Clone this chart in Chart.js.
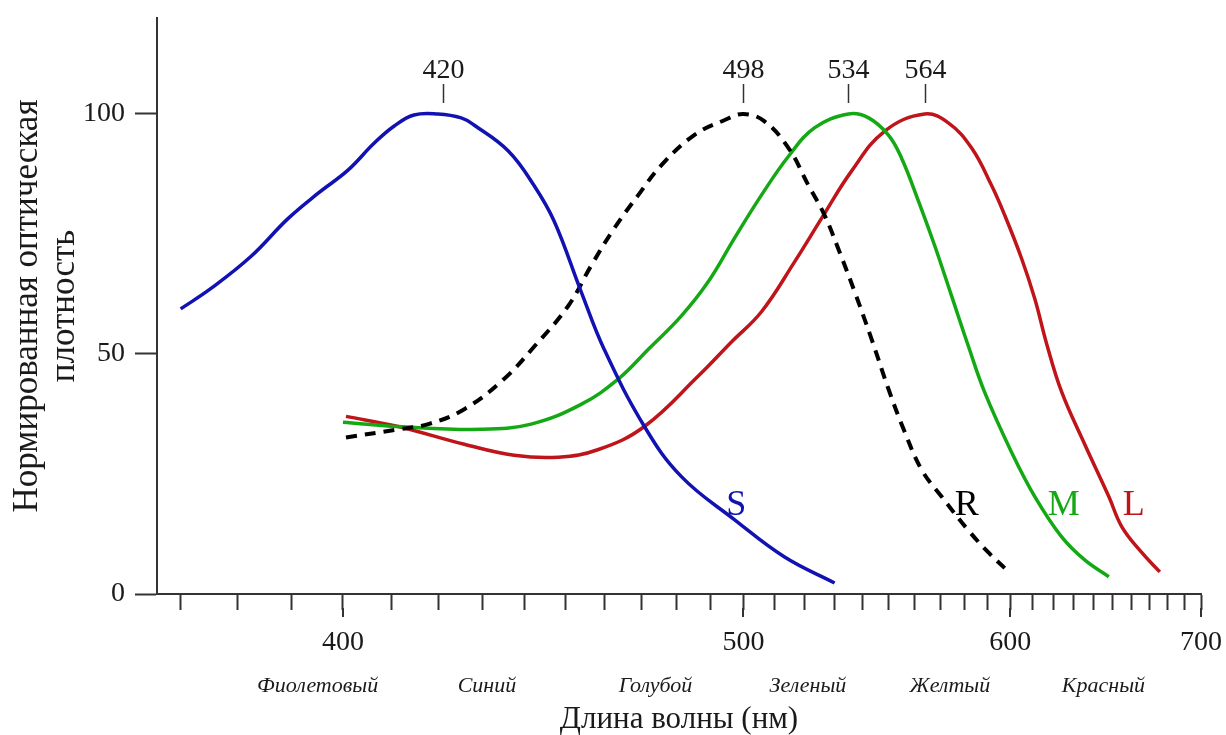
<!DOCTYPE html>
<html>
<head>
<meta charset="utf-8">
<script src="https://cdn.jsdelivr.net/npm/chart.js@4"></script>
<style>
  html, body { margin: 0; padding: 0; background: #fff; }
  #wrap { width: 1226px; height: 735px; position: relative; }
</style>
</head>
<body>
<div id="wrap"><canvas id="chart"></canvas></div>
<script>
// длина волны (нм) и нормированная оптическая плотность
const sWl  = [370, 375.2, 382.4, 389.3, 395.1, 401, 406.3, 410.5, 414.7, 419.9, 425.1, 428, 436, 442.2, 447.2, 454, 460, 470.9, 481.3, 497.2, 513.2, 530.2];
const sVal = [59.4, 63.6, 70.3, 78.2, 83.5, 88.3, 93.9, 97.5, 99.8, 100, 99.2, 97.7, 92.3, 85.1, 77.6, 63.0, 51.0, 34.9, 24.5, 15.5, 7.7, 2.3];

const rWl  = [400.6, 411.3, 417.8, 425.8, 435, 442.2, 450.7, 456.6, 462.7, 469.2, 475.6, 485.1, 494.1, 500, 506.6, 514.5, 521.2, 526.7, 531.9, 537.3, 543.5, 549.8, 555.9, 562.6, 570.6, 581.8, 590.4, 597.5];
const rVal = [32.6, 34.3, 35.4, 38.5, 44.8, 51.5, 60.0, 68.4, 76.2, 83.1, 89.3, 95.6, 98.7, 100, 98.5, 92.9, 85.1, 78.9, 71.3, 63.0, 53.1, 42.7, 33.9, 25.9, 20.3, 13.2, 8.6, 5.4];

const mWl  = [400, 411.3, 429.6, 441.5, 454, 463.8, 472, 481.3, 489.3, 497.2, 505.7, 514.5, 523.2, 535.1, 542.4, 549.8, 554.8, 561.4, 567.8, 574.7, 581.8, 588.7, 600.6, 611.2, 624, 635.4, 647.8];
const mVal = [35.8, 34.9, 34.3, 35.4, 39.5, 44.8, 51.0, 57.9, 65.1, 74.1, 83.1, 91.2, 97.1, 100, 99.2, 95.6, 90.8, 81.8, 72.6, 62.1, 51.5, 42.0, 29.5, 20.3, 11.9, 7.1, 3.6];

const lWl  = [400.6, 411.3, 425.8, 437.4, 448.2, 458.5, 470.9, 486.3, 496.3, 505.7, 516.5, 525.6, 536.2, 548.3, 563.8, 573.5, 583.1, 591.7, 597.5, 605.1, 611.2, 616.8, 624, 635.4, 647.8, 654.7, 665.6, 675.7];
const lVal = [37.0, 34.9, 31.2, 28.9, 28.5, 30.1, 34.9, 45.4, 52.5, 58.8, 69.2, 78.2, 88.1, 96.4, 100, 98.1, 92.9, 85.1, 78.9, 69.9, 61.5, 52.1, 42.1, 31.2, 20.3, 14.0, 8.6, 4.6];

const xTickWl = [370, 380, 390, 400, 410, 420, 430, 440, 450, 460, 470, 480, 490, 500, 510, 520, 530, 540, 550, 560, 570, 580, 590, 600, 610, 620, 630, 640, 650, 660, 670, 680, 690, 700];
const majorWl = [400, 500, 600, 700];
const yTicks = [0, 50, 100];

const peakWl = [421, 500, 535, 564];
const peakText = ["420", "498", "534", "564"];

const bandNames = ["Фиолетовый", "Синий", "Голубой", "Зеленый", "Желтый", "Красный"];
const bandWl = [395, 431, 474, 521, 574, 645];

const letters = ["S", "R", "M", "L"];
const letterWl = [497.8, 581, 625, 661.2];
const letterVal = [18.5, 18.5, 18.5, 18.5];

const BLUE = "#1212b2", BLACK = "#000000", GREEN = "#14a914", RED = "#bf1419";
const letterColors = [BLUE, BLACK, GREEN, RED];
const SERIF = "'Liberation Serif', 'Times New Roman', serif";

// ось X — шкала волновых чисел (1000/λ), перевёрнутая
function pts(wl, val) {
  return wl.map((w, i) => ({ x: 1000 / w, y: val[i] }));
}

function line(data, color, dash) {
  return {
    data: data,
    borderColor: color,
    borderWidth: dash ? 4 : 3.5,
    borderDash: dash || [],
    pointRadius: 0,
    fill: false,
    tension: 0.4,
  };
}

const extras = {
  id: "extras",
  afterDraw(chart) {
    const ctx = chart.ctx;
    const xs = chart.scales.x;
    const ys = chart.scales.y;
    ctx.save();

    // длинные штрихи на 400..700
    ctx.strokeStyle = "#333";
    ctx.lineWidth = 2;
    majorWl.forEach(w => {
      const px = Math.round(xs.getPixelForValue(1000 / w));
      ctx.beginPath();
      ctx.moveTo(px, xs.top + 14);
      ctx.lineTo(px, xs.top + 23);
      ctx.stroke();
    });

    // пики
    const top = ys.getPixelForValue(100);
    ctx.fillStyle = "#1a1a1a";
    ctx.font = "28px " + SERIF;
    ctx.textAlign = "center";
    ctx.textBaseline = "middle";
    ctx.lineWidth = 1.5;
    peakWl.forEach((w, i) => {
      const px = Math.round(xs.getPixelForValue(1000 / w)) + 0.5;
      ctx.beginPath();
      ctx.moveTo(px, top - 30);
      ctx.lineTo(px, top - 11);
      ctx.stroke();
      ctx.fillText(peakText[i], px, top - 43);
    });

    // буквы у кривых
    ctx.font = "36px " + SERIF;
    letters.forEach((t, i) => {
      ctx.fillStyle = letterColors[i];
      ctx.fillText(t, xs.getPixelForValue(1000 / letterWl[i]), ys.getPixelForValue(letterVal[i]));
    });

    // названия цветов
    ctx.fillStyle = "#1a1a1a";
    ctx.font = "italic 22px " + SERIF;
    bandNames.forEach((t, i) => {
      ctx.fillText(t, xs.getPixelForValue(1000 / bandWl[i]), 686);
    });

    ctx.restore();
  },
};

new Chart(document.getElementById("chart"), {
  type: "line",
  data: {
    datasets: [
      line(pts(sWl, sVal), BLUE),
      line(pts(rWl, rVal), BLACK, [11, 8]),
      line(pts(mWl, mVal), GREEN),
      line(pts(lWl, lVal), RED),
    ],
  },
  options: {
    responsive: true,
    maintainAspectRatio: false,
    animation: false,
    layout: { padding: { top: 18, right: 25, left: 0, bottom: 0 } },
    plugins: {
      legend: { display: false },
      tooltip: { enabled: false },
    },
    scales: {
      x: {
        type: "linear",
        reverse: true,
        min: 1000 / 700,
        max: 1000 / 366,
        afterBuildTicks: s => { s.ticks = xTickWl.map(w => ({ value: 1000 / w })); },
        afterFit: s => {
          s.height = 141;
          s.paddingLeft = 0;
          s.paddingRight = 0;
        },
        grid: { drawOnChartArea: false, tickLength: 16, tickColor: "#333", tickWidth: 2 },
        border: { display: true, color: "#333", width: 2 },
        ticks: {
          autoSkip: false,
          maxRotation: 0,
          padding: 16,
          color: "#1a1a1a",
          font: { family: SERIF, size: 28 },
          callback: (v, i) => (majorWl.includes(xTickWl[i]) ? String(xTickWl[i]) : ""),
        },
        title: {
          display: true,
          text: "Длина волны (нм)",
          color: "#1a1a1a",
          font: { family: SERIF, size: 31, lineHeight: 1 },
          padding: { top: 0, bottom: 0 },
        },
      },
      y: {
        min: 0,
        max: 120,
        afterBuildTicks: s => { s.ticks = yTicks.map(v => ({ value: v })); },
        afterFit: s => {
          s.width = 157;
          s.paddingTop = 0;
          s.paddingBottom = 0;
        },
        grid: { drawOnChartArea: false, tickLength: 22, tickColor: "#333", tickWidth: 2 },
        border: { display: true, color: "#333", width: 2 },
        ticks: {
          padding: 10,
          color: "#1a1a1a",
          font: { family: SERIF, size: 28 },
        },
        title: {
          display: true,
          text: ["Нормированная оптическая", "плотность"],
          color: "#1a1a1a",
          font: { family: SERIF, size: 35, lineHeight: 1.07 },
          padding: { top: 9, bottom: 0 },
        },
      },
    },
  },
  plugins: [extras],
});
</script>
</body>
</html>
